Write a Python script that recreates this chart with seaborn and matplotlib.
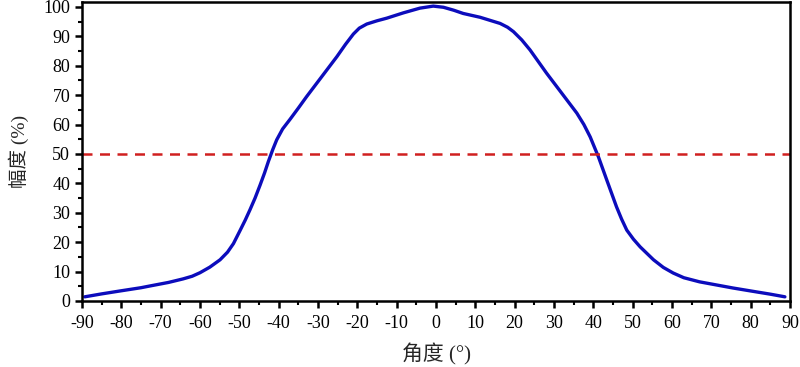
import pandas as pd
import seaborn as sns
import matplotlib.pyplot as plt
from matplotlib.ticker import MultipleLocator

# values
angle = [-89.3, -85, -80.3, -75, -72.7, -68, -64.3, -62, -60, -57.5, -54.9, -53,
         -51.5, -49.8, -48.5, -47.3, -46, -44.7, -43.6, -42.6, -41.5, -40.5, -39,
         -37.1, -35, -32.9, -29.5, -25.2, -23, -21, -19.5, -17.6, -15, -12.5, -8.3,
         -4.1, -0.7, 1.9, 4.5, 6.9, 11.2, 16.3, 18.2, 19.7, 21.8, 23.9, 28.1,
         31.5, 35.8, 37.6, 39.2, 41.3, 43.4, 45.9, 47.2, 48.5, 50.2, 51.9, 55.3,
         57.8, 60.3, 63, 67, 75.5, 80, 85, 88.7]
amplitude = [1.4, 2.4, 3.4, 4.5, 5.1, 6.3, 7.5, 8.4, 9.6, 11.5, 14, 16.6,
             19.5, 24, 27.5, 31, 35, 39.5, 43.5, 47.5, 51.5, 54.8, 58.5,
             61.8, 65.6, 69.5, 75.5, 83.1, 87.3, 90.8, 92.8, 94.2, 95.3, 96.2, 98,
             99.6, 100.3, 99.9, 98.9, 97.8, 96.5, 94.4, 93.1, 91.6, 88.8, 85.4, 77.5,
             71.5, 63.9, 60, 55.8, 49, 41.2, 32, 27.8, 24.1, 21, 18.4, 14,
             11.4, 9.5, 7.9, 6.5, 4.4, 3.4, 2.3, 1.4]
threshold = 50

df = pd.DataFrame({'angle': angle, 'amplitude': amplitude})

sns.set_theme(style='ticks')
plt.rcParams['font.family'] = ['Liberation Serif', 'Noto Sans CJK SC']
plt.rcParams.update({
    'axes.unicode_minus': False,
    'axes.linewidth': 1.8,
    'xtick.major.width': 1.8, 'ytick.major.width': 1.8,
    'xtick.minor.width': 1.5, 'ytick.minor.width': 1.5,
    'xtick.major.size': 5, 'ytick.major.size': 5,
    'xtick.minor.size': 3, 'ytick.minor.size': 3,
    'xtick.labelsize': 13, 'ytick.labelsize': 13,
    'xtick.color': 'black', 'ytick.color': 'black',
    'axes.edgecolor': 'black',
})

fig = plt.figure(figsize=(8, 3.67), dpi=100)
ax = fig.add_axes([0.1025, 0.18, 0.885, 0.8146])

sns.lineplot(data=df, x='angle', y='amplitude', color='#0c0cbc', linewidth=2.4, ax=ax)
ax.axhline(threshold, color='#d02020', linestyle=(0, (4, 3)), linewidth=1.8)

ax.set_xlim(-90, 90)
ax.set_ylim(0, 101.7)
ax.xaxis.set_major_locator(MultipleLocator(10))
ax.xaxis.set_minor_locator(MultipleLocator(5))
ax.yaxis.set_major_locator(MultipleLocator(10))
ax.yaxis.set_minor_locator(MultipleLocator(5))
ax.tick_params(which='both', direction='out')
ax.tick_params(axis='x', pad=5)

ax.set_xlabel('角度 (°)', fontsize=15, labelpad=8)
ax.set_ylabel('幅度 (%)', fontsize=14, labelpad=10)

fig.savefig('out.png', dpi=100, facecolor='white')
